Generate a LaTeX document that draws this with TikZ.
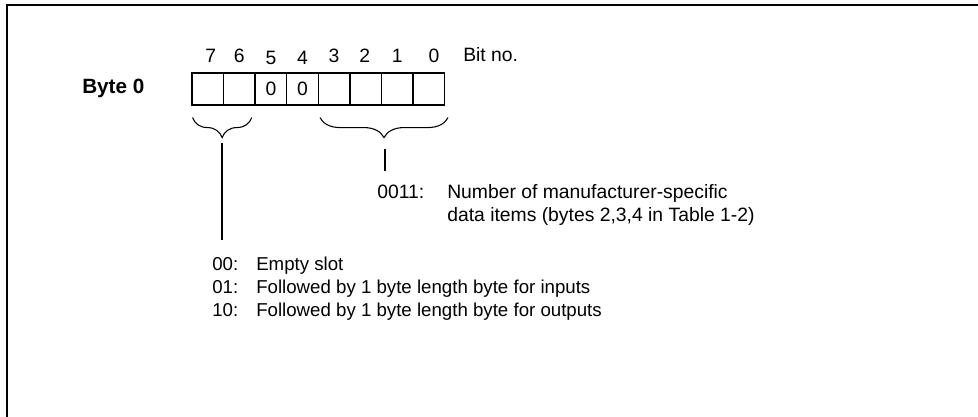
\documentclass[tikz,border=0pt]{standalone}
\usepackage{fontspec}
\setmainfont{Liberation Sans}
\usetikzlibrary{positioning,calc,decorations.pathreplacing}

\begin{document}
\begin{tikzpicture}[x=0.75pt, y=-0.75pt, node distance={23.7pt},
  cell/.style = {draw, line width=1pt, minimum width=23.7pt, minimum height=24pt, inner sep=0pt, font=\fontsize{14.5}{17}\selectfont},
  lbl/.style = {inner sep=0pt, anchor=base west, font=\fontsize{14.5}{17}\selectfont},
  note/.style = {inner sep=0pt, anchor=base west, font=\fontsize{14}{17}\selectfont},
  digit/.style = {inner sep=0pt, anchor=base, font=\fontsize{14.5}{17}\selectfont},
  ubrace/.style = {decorate, decoration={brace, amplitude=15pt}, line width=0.8pt},
  link/.style = {line width=0.8pt}]
\useasboundingbox (0,0) rectangle (978,417);

% frame: top and left edge only
\draw[line width=1.2pt] (7,417) -- (7,5) -- (978,5);

% byte 0, bit 7 on the left
\node[lbl, font=\bfseries\fontsize{15.5}{18}\selectfont] (byte) at (82,94) {Byte 0};
\node[cell] (b7) at (207.7,88.9) {};
\node[cell] (b6) [right of=b7] {};
\node[cell] (b5) [right of=b6] {0};
\node[cell] (b4) [right of=b5] {0};
\node[cell] (b3) [right of=b4] {};
\node[cell] (b2) [right of=b3] {};
\node[cell] (b1) [right of=b2] {};
\node[cell] (b0) [right of=b1] {};

% bit numbers
\foreach \i/\dx/\dy in {7/3/-26.2, 6/0/-26.2, 5/0/-23.9, 4/0/-23.9, 3/0/-26.2, 2/-1/-26.2, 1/0/-26.2, 0/5/-26.2}
  \node[digit] (n\i) at ($(b\i)+(\dx,\dy)$) {\i};
\node[lbl] (bitno) at (463,61.7) {Bit no.};

% braces under the bit groups
\coordinate (brL1) at ($(b7.south west)+(1.3,12)$);
\coordinate (brL2) at ($(b6.south east)+(-4,12)$);
\coordinate (brR1) at ($(b3.south west)+(2.3,12)$);
\coordinate (brR2) at ($(b0.south east)+(2.7,12)$);
\draw[ubrace] (brL2) -- (brL1);
\draw[ubrace] (brR2) -- (brR1);

% explanations
\node[lbl] (n0011) at (377,199) {\makebox[52.5pt][l]{0011:}Number of manufacturer-specific};
\node[lbl] (n0011b) at (447,222) {data items (bytes 2,3,4 in Table 1-2)};
\node[note] (c00) at (212,270) {\makebox[33pt][l]{00:}Empty slot};
\node[note] (c01) at (212,293) {\makebox[33pt][l]{01:}Followed by 1 byte length byte for inputs};
\node[note] (c10) at (212,316) {\makebox[33pt][l]{10:}Followed by 1 byte length byte for outputs};

% leader lines from the brace tips
\coordinate (tipL) at (222,143);
\coordinate (tipR) at (385,149);
\draw[link, shorten >=12pt] (tipL) -- (tipL |- c00.north);
\draw[link, shorten >=10pt] (tipR) -- (tipR |- n0011.north);
\end{tikzpicture}
\end{document}
